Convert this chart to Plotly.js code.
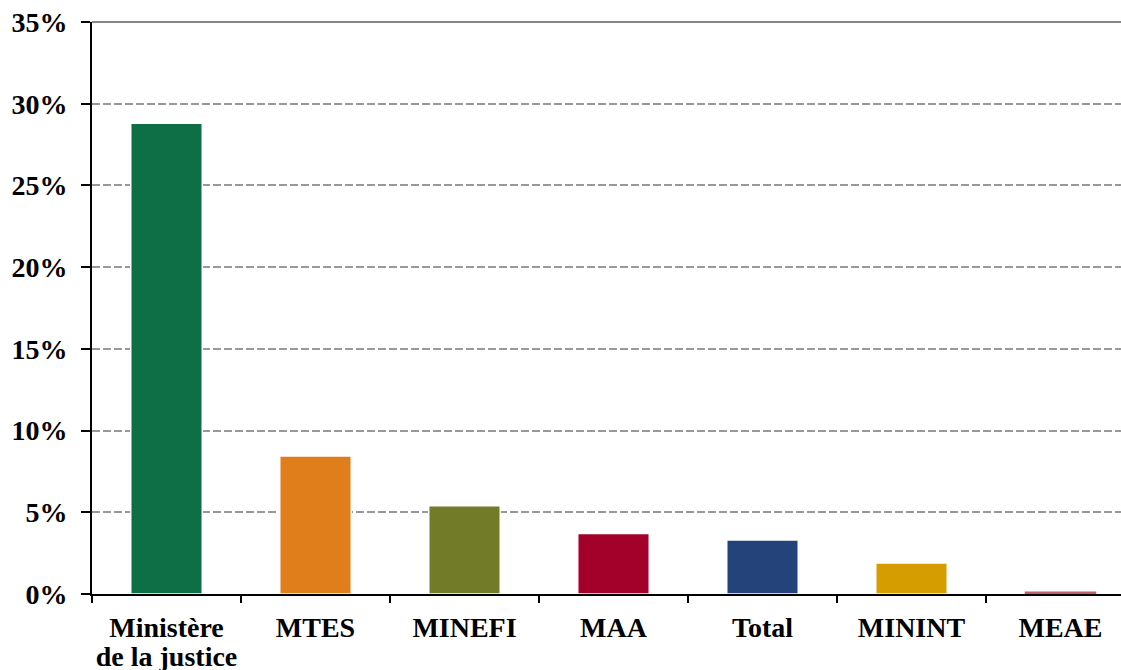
<!DOCTYPE html>
<html><head><meta charset="utf-8">
<script src="https://cdn.plot.ly/plotly-3.0.1.min.js"></script>
<style>html,body{margin:0;padding:0;background:#fff}#chart{width:1121px;height:670px}</style>
</head><body><div id="chart"></div>
<script>
const categories = ["Ministère<br>de la justice", "MTES", "MINEFI", "MAA", "Total", "MININT", "MEAE"];
const values = [28.8, 8.45, 5.4, 3.7, 3.3, 1.9, 0.15];
const colors = ["#0e6e46", "#e07e1c", "#727c28", "#a3002a", "#23437a", "#d69d00", "#c0606c"];
const yTickVals = [0, 5, 10, 15, 20, 25, 30, 35];
const yTickText = ["0%", "5%", "10%", "15%", "20%", "25%", "30%", "35%"];

const fam = "Liberation Serif, DejaVu Serif, serif";

Plotly.newPlot("chart", [{
  type: "bar",
  x: categories,
  y: values,
  marker: {color: colors, line: {color: "#fff", width: [1.5, 1.5, 1.5, 1.5, 1.5, 1.5, 0]}},
  width: 0.48,
  hoverinfo: "none"
}], {
  width: 1121, height: 670,
  margin: {l: 92, r: 0, t: 22, b: 76},
  paper_bgcolor: "#fff", plot_bgcolor: "#fff",
  font: {family: fam, size: 20, color: "#000"},
  showlegend: false,
  xaxis: {
    type: "category",
    range: [-0.5, 6.406],
    tickson: "boundaries",
    tickangle: 0,
    ticks: "outside", ticklen: 7, tickwidth: 2, tickcolor: "#000",
    showline: true, linecolor: "#000", linewidth: 2,
    showgrid: false, zeroline: false,
    tickfont: {family: fam, size: 28, color: "#000", weight: "bold"},
    ticklabelstandoff: 7
  },
  yaxis: {
    range: [0, 35],
    tickvals: yTickVals, ticktext: yTickText,
    ticks: "outside", ticklen: 9, tickwidth: 2, tickcolor: "#000",
    showline: true, linecolor: "#000", linewidth: 2,
    showgrid: true, gridcolor: "#999", gridwidth: 2, griddash: "8px,3px",
    zeroline: false,
    tickfont: {family: fam, size: 28, color: "#000", weight: "bold"},
    ticklabelstandoff: 8
  },
  shapes: [{type: "line", xref: "paper", yref: "paper", x0: 0, x1: 1, y0: 1, y1: 1, line: {color: "#888", width: 2}}]
}, {displayModeBar: false, staticPlot: true}).then(function () {
  document.querySelectorAll(".xtick text").forEach(function (t) {
    const lines = t.querySelectorAll("tspan.line");
    lines.forEach(function (s, i) { if (i > 0) s.setAttribute("dy", "1.04em"); });
  });
});
</script></body></html>
